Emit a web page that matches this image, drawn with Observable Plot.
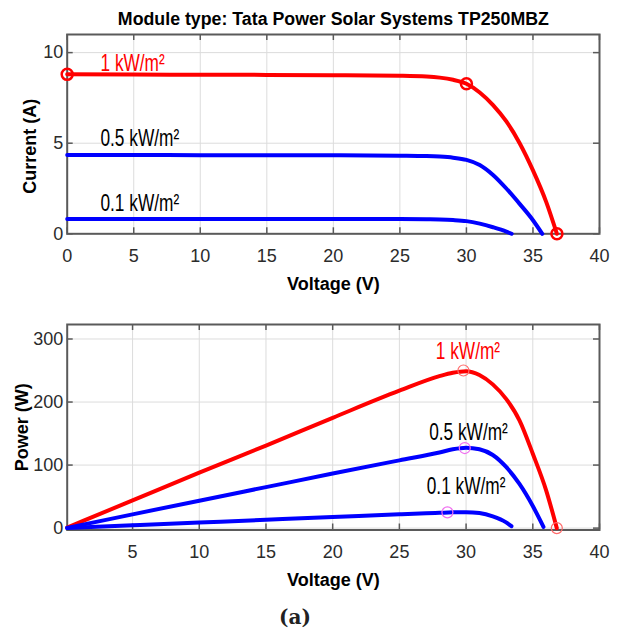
<!DOCTYPE html>
<html>
<head>
<meta charset="utf-8">
<script src="https://cdn.jsdelivr.net/npm/d3@7"></script>
<script src="https://cdn.jsdelivr.net/npm/@observablehq/plot@0.6"></script>
<style>
  html, body { margin: 0; padding: 0; background: #fff; }
  #fig { position: relative; width: 618px; height: 630px; overflow: hidden; }
  #fig svg { position: absolute; left: 0; }
  #caption { position: absolute; left: 255px; width: 80px; top: 605px; text-align: center;
             font: bold 20px "DejaVu Serif", "Liberation Serif", serif; color: #222; }
</style>
</head>
<body>
<div id="fig"><div id="caption">(a)</div></div>
<script>
// Module and irradiance levels
const moduleTitle = "Module type: Tata Power Solar Systems TP250MBZ";
const irradianceLabels = ["1 kW/m²", "0.5 kW/m²", "0.1 kW/m²"];

// I–V characteristics (voltage in V, current in A)
const ivVoltage1000 = [0, 5, 10, 15, 20, 25, 27, 28, 29, 30, 31, 32, 33, 34, 35, 36, 36.8];
const ivCurrent1000 = [8.8, 8.79, 8.78, 8.77, 8.75, 8.72, 8.68, 8.62, 8.5, 8.28, 7.8, 7.1, 6.2, 5.0, 3.5, 1.75, 0];
const ivVoltage500 = [0, 5, 10, 15, 20, 25, 27, 28, 29, 30, 31, 32, 33, 34, 35, 35.7];
const ivCurrent500 = [4.35, 4.35, 4.34, 4.34, 4.33, 4.31, 4.29, 4.26, 4.2, 4.08, 3.8, 3.25, 2.5, 1.65, 0.75, 0];
const ivVoltage100 = [0, 5, 10, 15, 20, 25, 27, 28, 29, 30, 31, 32, 33, 33.4];
const ivCurrent100 = [0.82, 0.82, 0.82, 0.82, 0.82, 0.81, 0.8, 0.79, 0.76, 0.7, 0.56, 0.36, 0.12, 0];

// P–V characteristics (voltage in V, power in W)
const pvVoltage1000 = [0.1, 5, 10, 15, 20, 25, 28, 29, 30, 31, 32, 33, 34, 35, 36, 36.8];
const pvPower1000 = [0.9, 44, 88, 131, 175, 218, 241, 246.5, 249, 243, 228, 205, 171, 118, 60, 0];
const pvVoltage500 = [0.1, 5, 10, 15, 20, 25, 28, 29, 30, 31, 32, 33, 34, 35, 35.8];
const pvPower500 = [0.4, 21.8, 43.5, 65, 86.5, 107.5, 120, 125, 127.5, 125, 116, 97, 70, 35, 2];
const pvVoltage100 = [0.1, 5, 10, 15, 20, 25, 27, 28, 29, 30, 31, 32, 33, 33.4];
const pvPower100 = [0.1, 4.4, 8.8, 13.2, 17.5, 22, 23.6, 24.3, 25, 25.2, 23.8, 18.5, 9, 3];

// Highlighted operating points
const ivMarkVoltage = [0, 30, 36.8];
const ivMarkCurrent = [8.8, 8.28, 0];
const pvMarkVoltage = [29.8, 29.9, 28.6, 36.8];
const pvMarkPower = [250, 127, 25, 0];
const pvMarkColors = ["#ff6b6b", "#f070f0", "#f070f0", "#ff6b6b"];

// Curve label anchors (same units as the axes)
const ivLabelVoltage = [2.5, 2.5, 2.5];
const ivLabelCurrent = [9.0, 4.87, 1.25];
const pvLabelVoltage = [27.73, 27.23, 27.05];
const pvLabelPower = [268.5, 140.4, 54.4];

// Axis ticks
const xTicksIV = [0, 5, 10, 15, 20, 25, 30, 35, 40];
const yTicksIV = [0, 5, 10];
const xTicksPV = [5, 10, 15, 20, 25, 30, 35, 40];
const yTicksPV = [0, 100, 200, 300];

const curveColors = ["#ff0000", "#0000ff", "#0000ff"];
const labelColors = ["#ff0000", "#000000", "#000000"];

const zip = (a, b) => a.map((v, k) => [v, b[k]]);
const ivCurves = [zip(ivVoltage1000, ivCurrent1000), zip(ivVoltage500, ivCurrent500), zip(ivVoltage100, ivCurrent100)];
const pvCurves = [zip(pvVoltage1000, pvPower1000), zip(pvVoltage500, pvPower500), zip(pvVoltage100, pvPower100)];
const ivLabels = irradianceLabels.map((t, k) => ({t, x: ivLabelVoltage[k], y: ivLabelCurrent[k], c: labelColors[k]}));
const pvLabels = irradianceLabels.map((t, k) => ({t, x: pvLabelVoltage[k], y: pvLabelPower[k], c: labelColors[k]}));
const pvMarks = pvMarkVoltage.map((v, k) => ({x: v, y: pvMarkPower[k], c: pvMarkColors[k]}));

const FONT = "'Liberation Sans', Arial, Helvetica, sans-serif";
const GRID = "#dcdcdc";
const BOX = "#5a5a5a";
const W = 618, ML = 66.7, MR = 19;
const FW = W - ML - MR;

function boxMarks(xTicks, yTicks, frameH) {
  return [
    Plot.gridX(xTicks, {stroke: GRID, strokeOpacity: 1, strokeWidth: 1}),
    Plot.gridY(yTicks, {stroke: GRID, strokeOpacity: 1, strokeWidth: 1}),
    // inward tick marks on all four sides
    Plot.tickX(xTicks, {x: d => d, insetTop: frameH - 6, stroke: BOX, strokeWidth: 1.5}),
    Plot.tickX(xTicks, {x: d => d, insetBottom: frameH - 6, stroke: BOX, strokeWidth: 1.5}),
    Plot.tickY(yTicks, {y: d => d, insetRight: FW - 6, stroke: BOX, strokeWidth: 1.5}),
    Plot.tickY(yTicks, {y: d => d, insetLeft: FW - 6, stroke: BOX, strokeWidth: 1.5}),
    Plot.frame({stroke: BOX, strokeWidth: 2}),
    Plot.axisX({ticks: xTicks, tickSize: 0, tickPadding: 15, label: null}),
    Plot.axisY({ticks: yTicks, tickSize: 0, tickPadding: 4, label: null})
  ];
}

const axisTitle = {fontWeight: "bold", fontSize: 18, fill: "#000", textAnchor: "middle", lineAnchor: "middle"};

// Top panel: current vs voltage
const ivTop = 34, ivBottom = 66.7, ivH = 300;
const plotIV = Plot.plot({
  width: W, height: ivH,
  marginTop: ivTop, marginBottom: ivBottom, marginLeft: ML, marginRight: MR,
  style: {fontFamily: FONT, fontSize: "18px", color: "#2b2b2b", background: "transparent", overflow: "visible"},
  x: {domain: [0, 40]},
  y: {domain: [0, 11]},
  marks: [
    ...boxMarks(xTicksIV, yTicksIV, ivH - ivTop - ivBottom),
    ...ivCurves.map((pts, k) => Plot.line(pts, {stroke: curveColors[k], strokeWidth: 4, curve: "monotone-x"})),
    Plot.dot(zip(ivMarkVoltage, ivMarkCurrent), {r: 5.5, stroke: "#ff0000", strokeWidth: 2.5, fill: "none"}),
    Plot.text(ivLabels, {x: "x", y: "y", text: "t", fill: "c", textAnchor: "start", lineAnchor: "bottom", fontSize: 24}),
    Plot.text([moduleTitle], {frameAnchor: "top", dy: -15, ...axisTitle}),
    Plot.text(["Voltage (V)"], {frameAnchor: "bottom", dy: 50.5, ...axisTitle}),
    Plot.text(["Current (A)"], {frameAnchor: "left", dx: -36.5, dy: 12, rotate: -90, ...axisTitle})
  ]
});

// Bottom panel: power vs voltage
const pvTop = 24, pvBottom = 70.5, pvH = 300;
const plotPV = Plot.plot({
  width: W, height: pvH,
  marginTop: pvTop, marginBottom: pvBottom, marginLeft: ML, marginRight: MR,
  style: {fontFamily: FONT, fontSize: "18px", color: "#2b2b2b", background: "transparent", overflow: "visible"},
  x: {domain: [0.1, 40]},
  y: {domain: [-3, 323]},
  marks: [
    ...boxMarks(xTicksPV, yTicksPV, pvH - pvTop - pvBottom),
    ...pvCurves.map((pts, k) => Plot.line(pts, {stroke: curveColors[k], strokeWidth: 4, curve: "monotone-x"})),
    Plot.dot(pvMarks, {x: "x", y: "y", r: 5.5, stroke: "c", strokeWidth: 1.2, fill: "none"}),
    Plot.text(pvLabels, {x: "x", y: "y", text: "t", fill: "c", textAnchor: "start", lineAnchor: "bottom", fontSize: 24}),
    Plot.text(["Voltage (V)"], {frameAnchor: "bottom", dy: 50.5, ...axisTitle}),
    Plot.text(["Power (W)"], {frameAnchor: "left", dx: -45, rotate: -90, ...axisTitle})
  ],
  color: {type: "identity"}
});

const fig = document.getElementById("fig");
plotIV.style.top = "0px";
plotPV.style.top = "300px";
fig.appendChild(plotIV);
fig.appendChild(plotPV);

// Condense the curve labels and fit the title to its width
for (const svg of [plotIV, plotPV]) {
  svg.querySelectorAll("text").forEach(t => {
    const s = t.textContent;
    if (s.includes("kW/m")) {
      const w = t.getComputedTextLength();
      t.setAttribute("textLength", (w * 0.72).toFixed(1));
      t.setAttribute("lengthAdjust", "spacingAndGlyphs");
    } else if (s === moduleTitle) {
      t.setAttribute("textLength", "431");
      t.setAttribute("lengthAdjust", "spacingAndGlyphs");
    }
  });
}
</script>
</body>
</html>
